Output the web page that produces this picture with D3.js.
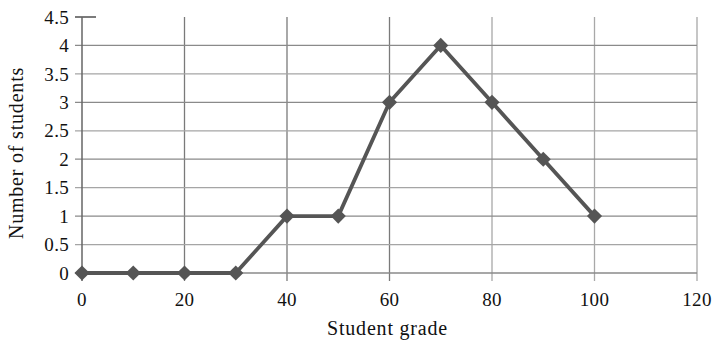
<!DOCTYPE html>
<html><head><meta charset="utf-8">
<script src="https://cdn.jsdelivr.net/npm/d3@7/dist/d3.min.js"></script>
<style>
body{margin:0;background:#fff;}
text{font-family:"Liberation Serif","DejaVu Serif",serif;fill:#111;}
</style></head>
<body><svg id="chart" width="714" height="341"></svg>
<script>
// Grade distribution: number of students at each grade
const grades = [0, 10, 20, 30, 40, 50, 60, 70, 80, 90, 100];
const students = [0, 0, 0, 0, 1, 1, 3, 4, 3, 2, 1];
const xTicks = [0, 20, 40, 60, 80, 100, 120];
const yTicks = [0, 0.5, 1, 1.5, 2, 2.5, 3, 3.5, 4, 4.5];

const svg = d3.select("#chart");
const m = {left: 82, right: 17, top: 17, bottom: 68};
const W = 714, H = 341;
const x = d3.scaleLinear().domain([0, 120]).range([m.left, W - m.right]);
const y = d3.scaleLinear().domain([0, 4.5]).range([H - m.bottom, m.top]);

// vertical gridlines (with tick stubs below the axis)
const vColor = d => d <= 60 ? "#7a7a7a" : "#a8a8a8";
svg.append("g").selectAll("line").data(xTicks.filter(d => d > 0)).join("line")
  .attr("x1", d => x(d)).attr("x2", d => x(d))
  .attr("y1", y(4.5)).attr("y2", y(0) + 8)
  .attr("stroke", vColor).attr("stroke-width", 1.3);

// horizontal gridlines (with tick stubs left of the axis)
const hColor = d => (d % 1 === 0) ? "#8a8a8a" : "#a5a5a5";
svg.append("g").selectAll("line").data(yTicks).join("line")
  .attr("x1", x(0) - 7).attr("x2", d => d === 4.5 ? x(0) + 14 : x(120))
  .attr("y1", d => y(d)).attr("y2", d => y(d))
  .attr("stroke", d => d === 4.5 ? "#333" : hColor(d)).attr("stroke-width", 1.3);

// y axis line
svg.append("line").attr("x1", x(0)).attr("x2", x(0))
  .attr("y1", y(4.5)).attr("y2", y(0) + 8)
  .attr("stroke", "#666").attr("stroke-width", 1.5);

// tick labels
svg.append("g").selectAll("text").data(yTicks).join("text")
  .attr("x", x(0) - 13).attr("y", d => y(d)).attr("dy", "0.35em")
  .attr("text-anchor", "end").attr("font-size", 19).attr("letter-spacing", 0.3)
  .text(d => d3.format("")(d));
svg.append("g").selectAll("text").data(xTicks).join("text")
  .attr("x", d => x(d)).attr("y", y(0) + 33)
  .attr("text-anchor", "middle").attr("font-size", 19).attr("letter-spacing", 0.3)
  .text(d => d);

// axis titles
svg.append("text").attr("x", x(60) - 2).attr("y", 335)
  .attr("text-anchor", "middle").attr("font-size", 20).attr("letter-spacing", 0.8)
  .text("Student grade");
svg.append("text").attr("transform", "translate(23,153) rotate(-90)")
  .attr("text-anchor", "middle").attr("font-size", 20).attr("letter-spacing", 0.8)
  .text("Number of students");

// series line
svg.append("path")
  .datum(grades.map((g, i) => [g, students[i]]))
  .attr("d", d3.line().x(d => x(d[0])).y(d => y(d[1])))
  .attr("fill", "none").attr("stroke", "#555").attr("stroke-width", 3.8)
  .attr("stroke-linejoin", "round");

// diamond markers
svg.append("g").selectAll("path").data(grades).join("path")
  .attr("d", d3.symbol(d3.symbolSquare, 115)())
  .attr("transform", (g, i) => `translate(${x(g)},${y(students[i])}) rotate(45)`)
  .attr("fill", "#555");
</script></body></html>
